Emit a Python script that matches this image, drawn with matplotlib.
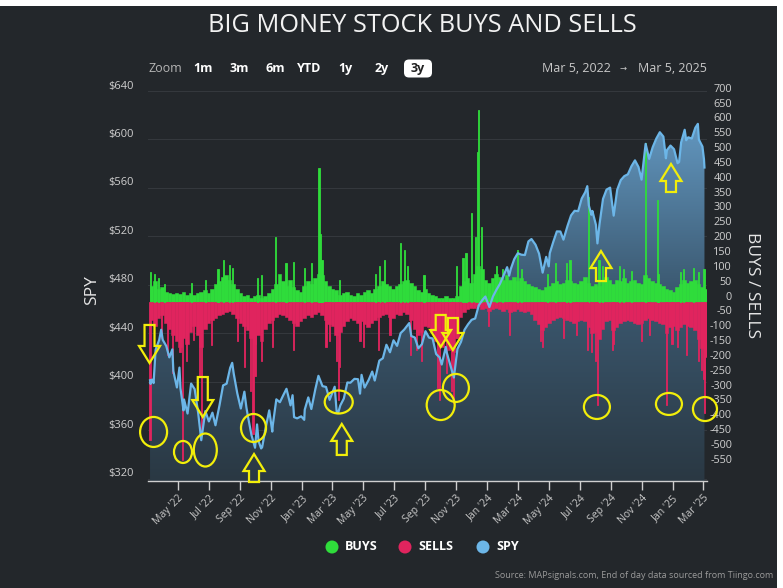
import numpy as np
import matplotlib.pyplot as plt
import matplotlib.dates as mdates
import pandas as pd
from matplotlib.patches import Rectangle, Ellipse, Polygon, FancyBboxPatch
from matplotlib.colors import LinearSegmentedColormap
from matplotlib import transforms

plt.rcParams['font.family'] = ['Open Sans', 'DejaVu Sans']

BG = '#23272b'
GREEN = '#2fdc3b'
RED = '#e0245e'
BLUE = '#6cb6e8'
YELLOW = '#f2ee0a'
TICK = '#cfcfcf'

# SPY (adjusted close)
spy_dates = [
    '2022-03-07', '2022-03-08', '2022-03-11', '2022-03-14', '2022-03-18', '2022-03-25', '2022-03-29',
    '2022-04-01', '2022-04-08', '2022-04-14', '2022-04-20', '2022-04-22', '2022-04-29', '2022-05-04',
    '2022-05-06', '2022-05-12', '2022-05-13', '2022-05-20', '2022-05-27', '2022-06-03', '2022-06-10',
    '2022-06-16', '2022-06-24', '2022-07-01', '2022-07-08', '2022-07-14', '2022-07-22', '2022-07-29',
    '2022-08-05', '2022-08-12', '2022-08-16', '2022-08-19', '2022-08-26', '2022-09-02', '2022-09-09',
    '2022-09-13', '2022-09-16', '2022-09-23', '2022-09-30', '2022-10-04', '2022-10-07', '2022-10-12',
    '2022-10-14', '2022-10-21', '2022-10-28', '2022-11-03', '2022-11-04', '2022-11-11', '2022-11-18',
    '2022-11-25', '2022-12-01', '2022-12-09', '2022-12-13', '2022-12-16', '2022-12-22', '2022-12-30',
    '2023-01-05', '2023-01-06', '2023-01-13', '2023-01-19', '2023-01-27', '2023-02-02', '2023-02-10',
    '2023-02-17', '2023-02-24', '2023-03-06', '2023-03-10', '2023-03-13', '2023-03-17', '2023-03-24',
    '2023-03-31', '2023-04-06', '2023-04-14', '2023-04-21', '2023-04-25', '2023-04-28', '2023-05-04',
    '2023-05-12', '2023-05-19', '2023-05-24', '2023-06-02', '2023-06-09', '2023-06-16', '2023-06-23',
    '2023-06-30', '2023-07-07', '2023-07-14', '2023-07-21', '2023-07-31', '2023-08-04', '2023-08-11',
    '2023-08-18', '2023-08-25', '2023-09-01', '2023-09-08', '2023-09-15', '2023-09-22', '2023-09-29',
    '2023-10-03', '2023-10-11', '2023-10-13', '2023-10-20', '2023-10-27', '2023-11-03', '2023-11-10',
    '2023-11-17', '2023-11-24', '2023-12-01', '2023-12-08', '2023-12-15', '2023-12-22', '2023-12-28',
    '2024-01-05', '2024-01-12', '2024-01-19', '2024-01-26', '2024-02-02', '2024-02-09', '2024-02-13',
    '2024-02-16', '2024-02-23', '2024-03-01', '2024-03-08', '2024-03-15', '2024-03-22', '2024-03-28',
    '2024-04-05', '2024-04-12', '2024-04-19', '2024-04-26', '2024-05-01', '2024-05-03', '2024-05-10',
    '2024-05-17', '2024-05-24', '2024-05-30', '2024-06-07', '2024-06-14', '2024-06-21', '2024-06-28',
    '2024-07-05', '2024-07-12', '2024-07-16', '2024-07-19', '2024-07-24', '2024-07-26', '2024-08-02',
    '2024-08-05', '2024-08-09', '2024-08-16', '2024-08-23', '2024-08-30', '2024-09-06', '2024-09-13',
    '2024-09-20', '2024-09-27', '2024-10-04', '2024-10-11', '2024-10-18', '2024-10-25', '2024-10-31',
    '2024-11-08', '2024-11-15', '2024-11-22', '2024-11-29', '2024-12-06', '2024-12-13', '2024-12-18',
    '2024-12-20', '2024-12-27', '2025-01-03', '2025-01-10', '2025-01-13', '2025-01-17', '2025-01-24',
    '2025-01-27', '2025-01-31', '2025-02-07', '2025-02-14', '2025-02-19', '2025-02-21', '2025-02-28',
    '2025-03-03', '2025-03-04',
]
spy_close = [
    401.4, 398.4, 402.0, 399.1, 426.7, 434.6, 443.1,
    434.8, 429.7, 420.3, 426.9, 409.0, 395.5, 411.9,
    394.8, 376.6, 385.6, 374.0, 398.7, 394.1, 374.2,
    352.0, 376.0, 367.5, 374.7, 364.3, 380.9, 397.2,
    398.6, 411.7, 415.8, 406.9, 390.7, 378.1, 392.0,
    379.0, 371.7, 356.2, 345.8, 365.0, 351.2, 345.2,
    346.2, 362.3, 376.6, 359.1, 364.4, 385.7, 383.3,
    389.4, 394.4, 380.7, 389.1, 371.0, 370.0, 371.7,
    368.8, 377.2, 387.3, 377.7, 394.3, 405.1, 396.6,
    395.9, 385.3, 396.1, 375.1, 374.6, 380.6, 386.3,
    399.6, 399.4, 402.6, 402.3, 390.4, 405.9, 395.4,
    401.7, 408.6, 401.2, 417.6, 419.6, 430.7, 424.5,
    434.4, 429.8, 440.3, 443.2, 448.6, 437.9, 436.7,
    427.8, 431.2, 441.9, 436.6, 435.9, 423.1, 420.2,
    414.4, 428.9, 424.2, 414.0, 403.7, 427.3, 433.1,
    443.1, 447.6, 451.3, 452.4, 463.2, 467.5, 470.5,
    461.8, 470.5, 476.1, 481.1, 488.0, 494.7, 487.7,
    493.0, 501.3, 506.2, 505.0, 504.7, 516.0, 517.9,
    513.2, 505.8, 490.2, 503.2, 495.4, 506.2, 515.6,
    524.2, 524.1, 517.4, 528.7, 537.4, 541.2, 540.9,
    551.3, 556.6, 561.5, 545.7, 537.9, 541.1, 529.7,
    514.3, 529.8, 551.0, 558.7, 560.3, 537.2, 558.6,
    566.5, 569.8, 571.3, 577.9, 582.8, 577.3, 566.9,
    596.4, 584.0, 593.7, 600.7, 606.0, 602.4, 584.5,
    591.2, 595.0, 592.0, 580.5, 581.4, 597.6, 608.0,
    599.4, 601.8, 600.8, 609.7, 612.9, 599.9, 594.2,
    583.8, 576.9,
]

# weekly typical buys / sells (weeks starting Monday 2022-03-07)
week_start = '2022-03-07'
buys_weekly = [
    55, 70, 45, 50,  35, 30, 28, 30,  28, 35, 22, 30, 25,  30, 35, 40, 30,
    45, 60, 70, 85,  90, 75, 60, 45, 30,  20, 25, 15, 20,  25, 15, 20, 30, 45,
    60, 95, 70, 55,  75, 50, 40, 35,
    55, 70, 60, 80, 95,  90, 70, 55, 45,  40, 25, 30, 35,  25, 20, 30, 25,
    35, 40, 30, 45, 55,  70, 60, 55, 45,  55, 60, 70, 75, 65,  55, 40, 35, 45,
    30, 25, 20, 15,  15, 20, 12, 15, 20,  55, 70, 80, 65,  95, 120, 110, 75,
    65, 80, 95, 85, 75,  90, 75, 85, 70,  80, 70, 60, 55,  50, 45, 40, 50, 55,
    65, 70, 60, 65,  75, 70, 65, 60,  70, 85, 65, 55, 60,  55, 70, 85, 75,
    60, 75, 70, 80, 65,  70, 75, 65, 60,  90, 80, 70, 65,  60, 55, 45, 40, 35,
    50, 60, 75, 65,  70, 75, 60, 50,  45,
]
sells_weekly = [
    -60, -80, -55, -45,  -70, -90, -110, -130,  -150, -120, -140, -100, -80,
    -110, -150, -90, -70,  -60, -55, -45, -40,  -35, -30, -40, -55, -70,
    -80, -95, -120, -140,  -110, -130, -90, -70, -60,  -50, -40, -45, -50,
    -60, -70, -80, -65,
    -55, -45, -50, -40, -35,  -45, -60, -75, -80,  -110, -100, -80, -65,
    -55, -60, -70, -65,  -75, -85, -70, -60, -50,  -45, -40, -50, -55,
    -40, -45, -35, -40, -60,  -90, -110, -100, -80,  -85, -100, -130, -140,
    -150, -130, -160, -170, -120,  -50, -35, -25, -20,  -20, -15, -25, -20,
    -30, -25, -20, -25, -30,  -25, -35, -30, -25,  -30, -35, -30, -40,
    -60, -75, -95, -85, -70,  -60, -55, -50, -55,  -60, -65, -70, -65,
    -60, -65, -85, -105, -100,  -125, -90, -65, -60,  -95, -85, -70, -65, -60,
    -65, -70, -75, -70,  -60, -55, -60, -65,  -70, -75, -105, -85, -80,
    -95, -85, -75, -80,  -85, -95, -125, -155,  -185,
]

# single-day spikes
buy_spike_dates = [
    '2022-03-08', '2022-03-16', '2022-03-24', '2022-04-05', '2022-05-27', '2022-06-24', '2022-07-19',
    '2022-07-29', '2022-08-10', '2022-08-16', '2022-10-04', '2022-10-13', '2022-11-10', '2022-11-30',
    '2022-12-14', '2023-01-06', '2023-01-20', '2023-02-03', '2023-02-06', '2023-02-09', '2023-03-16',
    '2023-05-26', '2023-06-02', '2023-06-13', '2023-07-13', '2023-07-21', '2023-07-28', '2023-08-29',
    '2023-11-02', '2023-11-14', '2023-11-20', '2023-12-01', '2023-12-08', '2023-12-13', '2023-12-15',
    '2023-12-21', '2024-01-19', '2024-01-31', '2024-03-01', '2024-03-08', '2024-04-29', '2024-05-15',
    '2024-06-05', '2024-06-12', '2024-07-19', '2024-08-08', '2024-08-15', '2024-09-18', '2024-09-26',
    '2024-10-11', '2024-11-08', '2024-12-02', '2024-12-04', '2025-01-15', '2025-01-21', '2025-02-10',
    '2025-02-20', '2025-03-03',
]
buy_spikes = [
    100, 95, 80, 60, 65, 75, 110,
    140, 125, 115, 80, 90, 220, 130,
    135, 115, 130, 450, 230, 140, 75,
    95, 120, 140, 200, 175, 120, 90,
    120, 150, 165, 300, 220, 505, 647,
    253, 120, 110, 175, 110, 95, 130,
    130, 140, 354, 140, 120, 120, 110,
    105, 535, 343, 95, 100, 110, 115,
    100, 110,
]
sell_spike_dates = [
    '2022-03-07', '2022-03-29', '2022-04-11', '2022-04-21', '2022-05-05', '2022-05-10', '2022-05-18',
    '2022-05-31', '2022-06-13', '2022-06-16', '2022-07-07', '2022-08-26', '2022-09-09', '2022-09-21',
    '2022-09-26', '2022-09-30', '2022-10-13', '2022-11-03', '2022-12-15', '2023-02-17', '2023-02-24',
    '2023-03-09', '2023-03-13', '2023-03-15', '2023-04-25', '2023-05-02', '2023-05-31', '2023-06-23',
    '2023-08-02', '2023-08-15', '2023-08-24', '2023-09-25', '2023-09-29', '2023-10-12', '2023-10-23',
    '2023-10-26', '2023-11-01', '2024-01-03', '2024-02-13', '2024-04-15', '2024-04-19', '2024-05-30',
    '2024-06-24', '2024-07-17', '2024-07-24', '2024-08-02', '2024-08-05', '2024-09-03', '2024-09-06',
    '2024-10-31', '2024-11-15', '2024-12-20', '2024-12-30', '2025-01-10', '2025-01-27', '2025-02-21',
    '2025-02-27', '2025-03-03', '2025-03-04',
]
sell_spikes = [
    -465, -120, -180, -240, -170, -532, -200,
    -128, -250, -441, -145, -130, -220, -300,
    -445, -250, -200, -150, -160, -150, -130,
    -200, -330, -220, -130, -150, -160, -110,
    -180, -160, -200, -290, -330, -240, -300,
    -340, -120, -80, -110, -130, -150, -120,
    -110, -160, -170, -200, -347, -160, -140,
    -130, -110, -347, -140, -150, -180, -200,
    -230, -260, -374,
]

spy_ticks = [320, 360, 400, 440, 480, 520, 560, 600, 640]
flow_ticks = list(range(-550, 701, 50))

# yellow highlights (date, SPY level); arrow length and ellipse size in px
down_arrows = [('2022-03-06', 415.7, 38), ('2022-06-19', 371.1, 40),
               ('2023-10-01', 428.9, 32), ('2023-10-25', 426.4, 32)]
up_arrows = [('2022-09-28', 340.6, 28), ('2023-03-20', 365.4, 31),
             ('2024-08-12', 508.0, 30), ('2024-12-28', 579.8, 28)]
circles = [('2022-03-14', 358.8, 27, 30), ('2022-05-11', 342.3, 18, 22),
           ('2022-06-24', 343.9, 23, 33), ('2022-09-27', 362.1, 25, 28),
           ('2023-03-14', 383.5, 28, 23), ('2023-10-01', 381.0, 28, 30),
           ('2023-10-31', 395.1, 26, 28), ('2024-08-04', 379.4, 26, 24),
           ('2024-12-24', 381.9, 26, 22), ('2025-03-05', 377.7, 24, 24)]

W, H = 783, 588
fig = plt.figure(figsize=(W / 100, H / 100), dpi=100)
fig.patch.set_facecolor('white')
fig.add_artist(Rectangle((0, 0), 777 / W, 582 / H, transform=fig.transFigure,
                         facecolor=BG, edgecolor='none', zorder=-5))

ax = fig.add_axes([148 / W, 1 - 481 / H, (707 - 148) / W, 390 / H])
ax.set_facecolor('none')
ax2 = ax.twinx()

x_spy = mdates.date2num(pd.to_datetime(spy_dates))
spy = np.array(spy_close)
spy_lo, spy_hi = 318.35, 640
x_lo = mdates.date2num(pd.Timestamp('2022-03-03'))
x_hi = mdates.date2num(pd.Timestamp('2025-03-09'))

# gradient area under SPY
verts = np.column_stack([np.r_[x_spy[0], x_spy, x_spy[-1]],
                         np.r_[spy_lo, spy, spy_lo]])
clip = Polygon(verts, closed=True, facecolor='none', edgecolor='none', transform=ax.transData)
ax.add_patch(clip)
cmap = LinearSegmentedColormap.from_list('spyfill', ['#2a3843', '#3c5a72', '#6aa3cf'])
grad = np.linspace(0, 1, 256).reshape(-1, 1)
im = ax.imshow(grad, extent=[x_spy[0], x_spy[-1], spy_lo, spy_hi], origin='lower',
               aspect='auto', cmap=cmap, zorder=1, interpolation='bilinear')
im.set_clip_path(clip)

ax.set_xlim(x_lo, x_hi)
ax.set_ylim(spy_lo, spy_hi)
ax.set_yticks(spy_ticks)
ax.set_axisbelow(True)
ax.grid(axis='y', color='#34383d', lw=0.8)
ax.tick_params(axis='y', length=0, labelleft=False)

# buys / sells bars
wk = mdates.date2num(pd.date_range(week_start, periods=len(buys_weekly), freq='7D')) + 3
wk_s = mdates.date2num(pd.date_range(week_start, periods=len(sells_weekly), freq='7D')) + 3
ax2.bar(wk, buys_weekly, width=7, color=GREEN, edgecolor=GREEN, linewidth=0.4, zorder=2)
ax2.bar(wk_s, sells_weekly, width=7, color=RED, edgecolor=RED, linewidth=0.4, zorder=2)
ax2.bar(mdates.date2num(pd.to_datetime(buy_spike_dates)), buy_spikes, width=2.2,
        color=GREEN, edgecolor=GREEN, linewidth=0.6, zorder=2)
ax2.bar(mdates.date2num(pd.to_datetime(sell_spike_dates)), sell_spikes, width=2.2,
        color=RED, edgecolor=RED, linewidth=0.6, zorder=2)

# SPY line on top of the bars, using the SPY scale
ax2.plot(x_spy, spy, color=BLUE, lw=1.6, transform=ax.transData, zorder=3,
         solid_joinstyle='round')

ax2.set_xlim(x_lo, x_hi)
ax2.set_ylim(-603, 711)
ax2.set_yticks([])

for a in (ax, ax2):
    for s in ('top', 'left', 'right'):
        a.spines[s].set_visible(False)
ax2.spines['bottom'].set_visible(False)
ax.spines['bottom'].set_color(TICK)
ax.spines['bottom'].set_linewidth(1)

ax.xaxis.set_major_locator(mdates.MonthLocator(bymonth=[1, 3, 5, 7, 9, 11]))
ax.xaxis.set_major_formatter(mdates.DateFormatter("%b '%y"))
ax.tick_params(axis='x', direction='out', length=6.5, width=1, color=TICK,
               labelcolor='#c8c8c8', labelsize=7.5, pad=2)
plt.setp(ax.get_xticklabels(), rotation=45, ha='right', rotation_mode='anchor')

# axis labels sit a few px above their gridlines
for v in spy_ticks:
    ax.annotate(f'${v}', xy=(0, v), xycoords=ax.get_yaxis_transform(), xytext=(-14, 5),
                textcoords='offset pixels', ha='right', va='center', fontsize=8,
                color=TICK, annotation_clip=False)
for v in flow_ticks:
    ax2.annotate(str(v), xy=(1, v), xycoords=ax2.get_yaxis_transform(), xytext=(25, 5),
                 textcoords='offset pixels', ha='right', va='center', fontsize=7.8,
                 color=TICK, annotation_clip=False)


def at(date, level):
    # pixel-sized shapes anchored at a (date, SPY) point
    xd = mdates.date2num(pd.Timestamp(date))
    return fig.dpi_scale_trans + transforms.ScaledTranslation(xd, level, ax.transData)


def arrow_verts(length, up):
    s, w, h = 10, 21, 17
    pts = [(-s / 2, length), (s / 2, length), (s / 2, h), (w / 2, h), (0, 0), (-w / 2, h), (-s / 2, h)]
    sign = -1 if up else 1
    return [(px / 100, sign * py / 100) for px, py in pts]


for d, lvl, ln in down_arrows:
    ax2.add_patch(Polygon(arrow_verts(ln, False), closed=True, transform=at(d, lvl),
                          fill=False, edgecolor=YELLOW, lw=1.6, zorder=5, clip_on=False))
for d, lvl, ln in up_arrows:
    ax2.add_patch(Polygon(arrow_verts(ln, True), closed=True, transform=at(d, lvl),
                          fill=False, edgecolor=YELLOW, lw=1.6, zorder=5, clip_on=False))
for d, lvl, cw, ch in circles:
    ax2.add_patch(Ellipse((0, 0), cw / 100, ch / 100, transform=at(d, lvl),
                          fill=False, edgecolor=YELLOW, lw=1.6, zorder=5, clip_on=False))

# page furniture in pixel coordinates
ov = fig.add_axes([0, 0, 1, 1], zorder=10)
ov.set_xlim(0, W)
ov.set_ylim(H, 0)
ov.axis('off')

ov.text(422, 26, 'BIG MONEY STOCK BUYS AND SELLS', ha='center', va='center',
        fontsize=18.3, color='#f2f2f2')

ov.text(165.5, 69, 'Zoom', ha='center', va='center', fontsize=9, color='#b5b5b5')
buttons = [('1m', 203), ('3m', 239.5), ('6m', 275.5), ('YTD', 309), ('1y', 345.5), ('2y', 382), ('3y', 418)]
for lbl, bx in buttons:
    if lbl == '3y':
        ov.add_patch(FancyBboxPatch((404, 59.5), 28, 18, boxstyle='round,pad=0,rounding_size=5',
                                    facecolor='white', edgecolor='none'))
        ov.text(bx, 68.5, lbl, ha='center', va='center', fontsize=9, fontweight='bold', color='#222222')
    else:
        ov.text(bx, 68.5, lbl, ha='center', va='center', fontsize=9, fontweight='bold', color='white')

ov.text(611, 69, 'Mar 5, 2022', ha='right', va='center', fontsize=9, color='#c8c8c8')
ov.text(623, 69, '→', ha='center', va='center', fontsize=6, color='#c8c8c8')
ov.text(638, 69, 'Mar 5, 2025', ha='left', va='center', fontsize=9, color='#c8c8c8')

ov.text(92, 290, 'SPY', rotation=90, ha='center', va='center', fontsize=12.5, color='#e6e6e6')
ov.text(752, 285, 'BUYS / SELLS', rotation=270, ha='center', va='center', fontsize=12.5,
        color='#e6e6e6')

legend_items = [('BUYS', GREEN, 332), ('SELLS', RED, 405), ('SPY', BLUE, 483)]
for lbl, col, lx in legend_items:
    ov.add_patch(Ellipse((lx, 547), 13, 13, facecolor=col, edgecolor='none'))
    ov.text(lx + 13, 547, lbl, ha='left', va='center', fontsize=9, fontweight='bold', color='white')

ov.text(773, 576, 'Source: MAPsignals.com, End of day data sourced from Tiingo.com', ha='right',
        va='center', fontsize=6.5, color='#9a9a9a')

fig.savefig('out.png', dpi=100, facecolor=fig.get_facecolor())
